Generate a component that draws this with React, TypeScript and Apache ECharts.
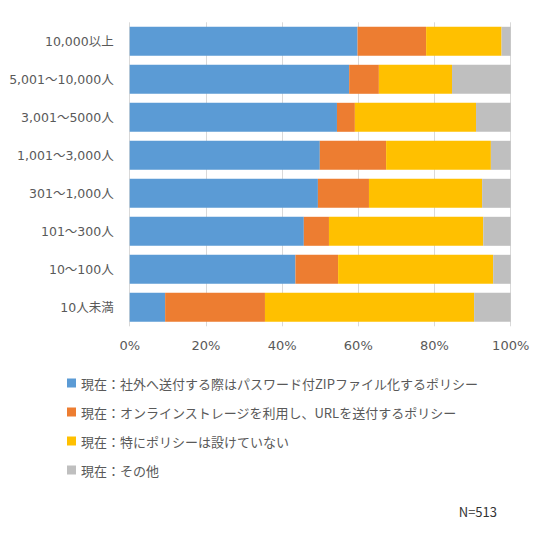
import React, { useEffect, useRef } from "react";
import * as echarts from "echarts";

const categories = [
    "10,000以上",
    "5,001～10,000人",
    "3,001～5000人",
    "1,001～3,000人",
    "301～1,000人",
    "101～300人",
    "10～100人",
    "10人未満",
];

const seriesNames = [
    "現在：社外へ送付する際はパスワード付ZIPファイル化するポリシー",
    "現在：オンラインストレージを利用し、URLを送付するポリシー",
    "現在：特にポリシーは設けていない",
    "現在：その他",
];

const zipPolicy = [59.8, 57.6, 54.4, 49.9, 49.4, 45.7, 43.5, 9.3];
const storagePolicy = [18.0, 7.8, 4.7, 17.4, 13.4, 6.6, 11.2, 26.2];
const noPolicy = [19.8, 19.2, 31.8, 27.5, 29.7, 40.5, 40.7, 54.9];
const other = [2.4, 15.4, 9.1, 5.2, 7.5, 7.2, 4.6, 9.6];

const colors = ["#5B9BD5", "#ED7D31", "#FFC000", "#BFBFBF"];

const FONT = "'Noto Sans CJK JP', 'Noto Sans', sans-serif";
// Verdana-like digits for the axis labels, CJK falls back to Noto
const AXIS_FONT = "'DejaVu Sans', 'Noto Sans CJK JP', sans-serif";

const App: React.FC = () => {
    const chartRef = useRef<HTMLDivElement>(null);

    useEffect(() => {
        if (!chartRef.current) return;
        const chart = echarts.init(chartRef.current, undefined, { renderer: "svg" });

        const values = [zipPolicy, storagePolicy, noPolicy, other];

        chart.setOption({
            animation: false,
            backgroundColor: "#ffffff",
            textStyle: { fontFamily: FONT },
            grid: { left: 129.7, right: 25.3, top: 22.3, bottom: 222.7 },
            xAxis: {
                type: "value",
                min: 0,
                max: 100,
                interval: 20,
                axisLine: { show: false },
                axisTick: { show: false },
                axisLabel: {
                    formatter: "{value}%",
                    color: "#595959",
                    fontSize: 13,
                    fontFamily: AXIS_FONT,
                    margin: 13,
                },
                splitLine: { show: true, lineStyle: { color: "#D9D9D9", width: 1 } },
            },
            yAxis: {
                type: "category",
                data: categories,
                inverse: true,
                axisLine: { show: false },
                axisTick: { show: false },
                axisLabel: {
                    color: "#595959",
                    fontSize: 12.5,
                    fontFamily: AXIS_FONT,
                    margin: 16,
                },
            },
            legend: {
                orient: "vertical",
                left: 62,
                top: 370,
                icon: "rect",
                itemWidth: 9,
                itemHeight: 9,
                itemGap: 13,
                selectedMode: false,
                textStyle: {
                    color: "#595959",
                    fontSize: 13,
                    lineHeight: 16,
                    fontFamily: FONT,
                },
                data: seriesNames,
            },
            graphic: [
                {
                    type: "text",
                    right: 39,
                    top: 505,
                    style: {
                        text: "N=513",
                        fill: "#333333",
                        fontSize: 13,
                        fontFamily: FONT,
                    },
                },
            ],
            series: seriesNames.map((name, i) => ({
                name,
                type: "bar",
                stack: "total",
                barWidth: 29,
                itemStyle: { color: colors[i] },
                data: values[i],
            })),
        });

        return () => {
            chart.dispose();
        };
    }, []);

    return (
        <div
            ref={chartRef}
            style={{ position: "fixed", left: 0, top: 0, width: "536px", height: "549px" }}
        />
    );
};

export default App;
